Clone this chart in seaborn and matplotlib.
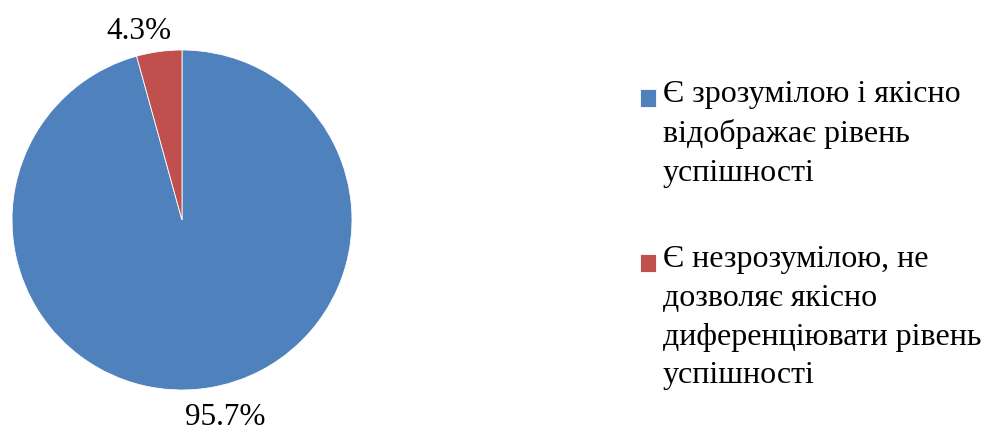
import matplotlib
matplotlib.use("Agg")
import numpy as np
import matplotlib.pyplot as plt
import seaborn as sns

# chart data
categories = [
    "Є зрозумілою і якісно\nвідображає рівень\nуспішності",
    "Є незрозумілою, не\nдозволяє якісно\nдиференціювати рівень\nуспішності",
]
shares = [95.7, 4.3]
colors = ["#4F81BD", "#C0504D"]

DPI = 100

sns.set_style("white")
plt.rcParams["font.family"] = ["Liberation Serif", "DejaVu Serif"]
plt.rcParams["text.color"] = "black"

fig = plt.figure(figsize=(9.84, 4.32), dpi=DPI)
ax = fig.add_axes([12 / 984, 42 / 432, 340 / 984, 340 / 432])

wedges, texts, autotexts = ax.pie(
    shares,
    colors=colors,
    startangle=90,
    counterclock=False,
    autopct="%.1f%%",
    pctdistance=1.16,
    radius=1,
    wedgeprops={"edgecolor": "white", "linewidth": 0.6},
    textprops={"fontsize": 22.5, "color": "black"},
)
# push the percent labels a bit sideways, like the office chart does
# (the bottom one stays inside the canvas)
for t in autotexts:
    x, y = t.get_position()
    dy = -0.04 if y > 0 else -0.015
    t.set_position((x + np.sign(x) * 0.1, y + dy))

ax.set_xlim(-1, 1)
ax.set_ylim(-1, 1)
ax.axis("off")

leg = fig.legend(
    wedges,
    categories,
    loc="upper left",
    bbox_to_anchor=(640 / 984, 1 - 80 / 432),
    frameon=False,
    fontsize=23,
    labelcolor="black",
    handlelength=0.5,
    handleheight=0.5,
    handletextpad=0.22,
    labelspacing=1.77,
    borderaxespad=0,
    borderpad=0,
)
for t in leg.get_texts():
    t.set_linespacing(1.45)

# move legend squares up to the first line of each label
fig.canvas.draw()
for h, t in zip(leg.legend_handles, leg.get_texts()):
    tb = t.get_window_extent()
    hb = h.get_window_extent()
    nlines = t.get_text().count("\n") + 1
    line_h = tb.height / nlines
    target = tb.y1 - line_h / 2
    delta = target - (hb.y0 + hb.y1) / 2
    h.set_y(h.get_y() + delta * 72 / DPI)

fig.savefig("out.png", dpi=DPI)
